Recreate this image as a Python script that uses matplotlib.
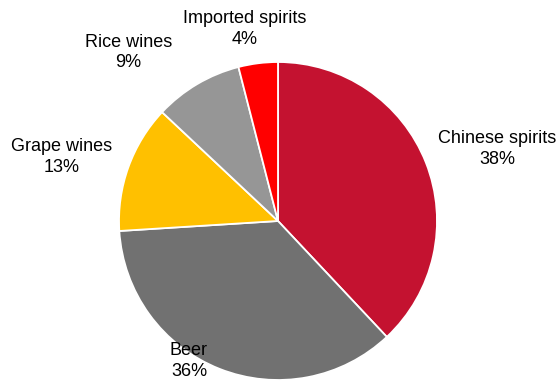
import matplotlib.pyplot as plt
from matplotlib import font_manager

# Data
kategoriler = ['Chinese spirits', 'Beer', 'Grape wines', 'Rice wines', 'Imported spirits']
paylar = [38, 36, 13, 9, 4]
renkler = ['#C41230', '#717171', '#FFC000', '#969696', '#FF0000']

# label centres (data coords, pie radius = 1)
etiket_yer = {
    'Chinese spirits': (1.38, 0.45),
    'Beer': (-0.56, -0.88),
    'Grape wines': (-1.36, 0.40),
    'Rice wines': (-0.94, 1.06),
    'Imported spirits': (-0.21, 1.21),
}

adlar = {f.name for f in font_manager.fontManager.ttflist}
font = 'Liberation Sans Narrow' if 'Liberation Sans Narrow' in adlar else 'Liberation Sans'
plt.rcParams['font.family'] = [font, 'DejaVu Sans']
boyut = 14 if font == 'Liberation Sans Narrow' else 13

fig = plt.figure(figsize=(5.6, 3.83), dpi=100)
ax = fig.add_axes([0, 0, 1, 1])

ax.pie(paylar, colors=renkler, startangle=90, counterclock=False,
       wedgeprops={'linewidth': 1.3, 'edgecolor': 'white'})

for kat, pay in zip(kategoriler, paylar):
    x, y = etiket_yer[kat]
    ax.text(x, y, f'{kat}\n{pay}%', ha='center', va='center',
            fontsize=boyut, linespacing=1.3, color='black')

ax.set_xlim(-278 / 159, (560 - 278) / 159)
ax.set_ylim(-(383 - 221) / 159, 221 / 159)
ax.axis('off')

fig.savefig('out.png', dpi=100, facecolor='white')
